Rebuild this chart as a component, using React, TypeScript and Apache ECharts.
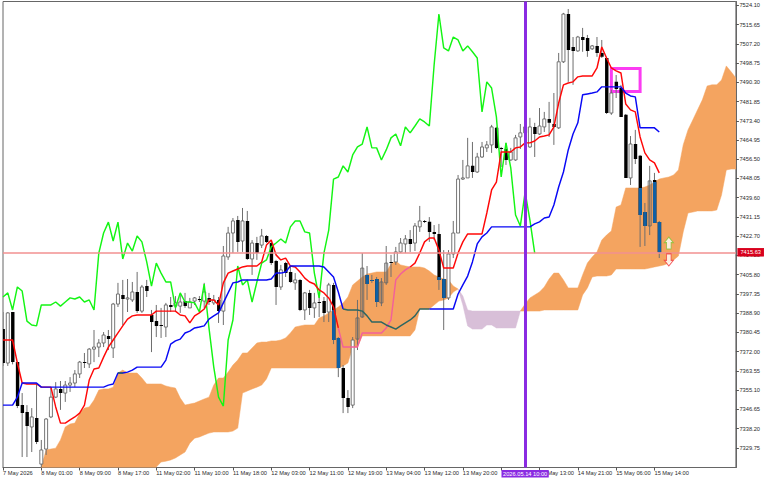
import { useEffect, useRef } from "react";
import * as echarts from "echarts";

// H1 bars
const opens = [
  7381.9, 7367, 7389.4, 7367.4, 7348.5, 7345.5, 7338.9, 7342.8, 7322.6, 7329.2,
  7343.3, 7352, 7355.6, 7353.8, 7357.3, 7358.2, 7362.2, 7367.4, 7366.6, 7373.1,
  7374, 7375.8, 7378.9, 7373.6, 7392.9, 7396.9, 7395.1, 7394.7, 7398.2, 7389.8,
  7400.8, 7388.1, 7385.5, 7383.7, 7382.8, 7392.5, 7392, 7392, 7394.2, 7391.2,
  7394.2, 7395.1, 7394.2, 7395.6, 7393.4, 7394.7, 7389.8, 7413.6, 7424.1, 7429.8,
  7420.6, 7429.4, 7412.7, 7419.7, 7418.8, 7422.8, 7419.7, 7411.8, 7400.4, 7410.9,
  7407, 7402.2, 7403.5, 7390.3, 7397.8, 7391.2, 7393.8, 7394.2, 7389.4, 7401.3,
  7378, 7364.8, 7351.6, 7348.5, 7377.5, 7387.2, 7405.7, 7403.5, 7403.9, 7393.4,
  7402.2, 7411.4, 7411.4, 7415.8, 7419.3, 7421.5, 7419.7, 7426.8, 7429.4, 7429,
  7424.6, 7423.7, 7403.9, 7395.6, 7414.9, 7424.1, 7447.8, 7448.3, 7453.6, 7450.9,
  7457.5, 7461.5, 7462.8, 7470.3, 7461.5, 7461, 7456.2, 7456.2, 7466.3, 7468.1,
  7461.9, 7470.7, 7467.6, 7470.7, 7474.2, 7472, 7470.3, 7499.3, 7520.3, 7505.8,
  7504.1, 7510.2, 7509.8, 7505, 7506.3, 7503.2, 7501, 7476.8, 7490.5, 7487.8,
  7476, 7448.3, 7463.2, 7458, 7433.3, 7427.2, 7447.4, 7428.9,
];
const highs = [
  7389.4, 7389.4, 7389.4, 7367.4, 7353.8, 7348.5, 7347.2, 7358.2, 7333.2, 7342.8,
  7356.4, 7358.6, 7359.1, 7359.1, 7360.8, 7363.9, 7367.9, 7371.4, 7373.6, 7381.5,
  7377.5, 7380.6, 7381.5, 7393.4, 7402.2, 7403.5, 7403.9, 7402.6, 7407, 7401.3,
  7403.5, 7390.3, 7392.5, 7391.2, 7393.4, 7396, 7396.4, 7396.9, 7397.8, 7395.6,
  7396, 7396.4, 7402.2, 7397.8, 7396.9, 7396, 7418.4, 7426.8, 7430.7, 7431.6,
  7435.1, 7433.8, 7421, 7422.4, 7425.9, 7423.2, 7421, 7412.3, 7410.1, 7411.4,
  7409.2, 7406.5, 7403.9, 7398.2, 7399.1, 7397.8, 7397.8, 7396, 7402.2, 7402.2,
  7378.4, 7366.1, 7355.1, 7378.4, 7394.7, 7415.3, 7409.6, 7405.7, 7404.8, 7404.3,
  7418.4, 7414.5, 7418, 7421.9, 7423.2, 7425.4, 7428.5, 7436, 7429.8, 7431.1,
  7427.6, 7428.1, 7416.6, 7416.6, 7429.4, 7449.6, 7456.2, 7465.9, 7464.1, 7459.3,
  7464.1, 7464.5, 7471.6, 7470.7, 7461.9, 7463.7, 7461.5, 7467.2, 7472, 7473.8,
  7474.7, 7472.5, 7479, 7477.3, 7481.7, 7485.6, 7503.2, 7520.8, 7522.5, 7510.2,
  7510.7, 7514.2, 7511.1, 7506.7, 7510.2, 7508.9, 7501.5, 7487, 7493.5, 7489.2,
  7476.4, 7466.7, 7469.4, 7458.4, 7437.3, 7453.6, 7450.5, 7429.4,
];
const lows = [
  7365.7, 7365.7, 7366.4, 7347.2, 7325.7, 7325.7, 7327.9, 7331.4, 7321.3, 7326.6,
  7342.8, 7351.6, 7346.4, 7349.9, 7354.3, 7356.4, 7360.4, 7364.8, 7364.8, 7367.4,
  7369.6, 7374, 7372.7, 7369.2, 7391.6, 7383.7, 7389.4, 7393.8, 7389, 7389,
  7396, 7371.8, 7378.4, 7378, 7378.4, 7389.4, 7389.4, 7389, 7391.2, 7391.2,
  7392.5, 7393.8, 7391.2, 7392.5, 7392.5, 7384.6, 7383.7, 7412.3, 7415.3, 7415.8,
  7415.8, 7412.3, 7405.7, 7412.3, 7417.5, 7419.7, 7410.1, 7392.5, 7399.1, 7404.8,
  7402.2, 7399.1, 7389.8, 7385.9, 7388.1, 7386.8, 7387.2, 7385, 7385, 7375.3,
  7360.8, 7345, 7345, 7347.2, 7372.7, 7386.8, 7394.7, 7402.2, 7391.6, 7392,
  7401.3, 7404.8, 7410.1, 7415.3, 7415.3, 7415.8, 7416.2, 7424.6, 7428.5, 7420.2,
  7421, 7399.1, 7381.5, 7394.7, 7413.1, 7424.1, 7447.4, 7448.3, 7448.3, 7450.5,
  7457.1, 7459.7, 7459.3, 7461, 7453.1, 7454, 7455.8, 7455.8, 7461, 7460.6,
  7461.5, 7457.5, 7467.2, 7468.5, 7466.3, 7462.8, 7469.8, 7498.8, 7490.5, 7489.2,
  7503.7, 7503.7, 7501.5, 7504.5, 7501.5, 7501, 7476.4, 7476, 7483.4, 7475.1,
  7448.3, 7445.2, 7454.4, 7418, 7418.4, 7423.2, 7428.5, 7413.1,
];
const closes = [
  7367, 7389, 7367.4, 7348.1, 7345, 7339.3, 7343.3, 7332.3, 7328.8, 7342.4,
  7352, 7355.6, 7353.8, 7357.3, 7358.2, 7362.2, 7367.4, 7367, 7373.1, 7374,
  7375.8, 7379.3, 7377.5, 7392.9, 7397.3, 7395.1, 7395.6, 7398.2, 7389.8, 7400.4,
  7398.6, 7385, 7383.3, 7383.3, 7392.5, 7391.6, 7393.4, 7393.8, 7392, 7393.8,
  7395.6, 7394.7, 7398.2, 7393.8, 7394.7, 7389.8, 7414, 7424.1, 7429.4, 7420.2,
  7429.4, 7412.7, 7419.7, 7415.3, 7422.8, 7420.2, 7410.9, 7400.4, 7407.9, 7406.5,
  7402.6, 7403.5, 7390.3, 7397.8, 7391.2, 7393.4, 7393.4, 7389, 7401.3, 7377.1,
  7364.8, 7351.6, 7347.7, 7377.1, 7386.8, 7408.7, 7401.7, 7403, 7393.8, 7402.6,
  7410.9, 7410.9, 7415.8, 7419.7, 7421.5, 7419.3, 7427.2, 7429.4, 7429, 7424.6,
  7423.7, 7403.5, 7395.6, 7414.9, 7424.1, 7447.8, 7448.3, 7453.6, 7450.9, 7457.5,
  7461.9, 7462.8, 7470.7, 7461.5, 7461, 7456.2, 7459.7, 7465.9, 7468.1, 7470.7,
  7470.7, 7467.6, 7471.1, 7474.2, 7472.5, 7470.7, 7499.3, 7520.3, 7504.5, 7504.1,
  7510.2, 7508.9, 7504.1, 7506.3, 7503.2, 7501.5, 7476.8, 7485.6, 7487.4, 7475.1,
  7448.3, 7463.2, 7456.6, 7432, 7427.2, 7447, 7428.5, 7415.63,
];

// Ichimoku lines
const tenkan = [
  7377.1, 7377.1, 7377.1, 7367, 7358.2, 7357.8, 7357.8, 7357.8, 7356.4, 7356.4,
  7356.4, 7347.7, 7340.6, 7340.6, 7342, 7343.3, 7345, 7348.5, 7359.5, 7364.4,
  7364.8, 7369.6, 7374, 7377.1, 7380.2, 7383.3, 7386.3, 7387.7, 7388.1, 7388.1,
  7388.1, 7388.1, 7389.8, 7389.8, 7389.8, 7389.8, 7389.8, 7388.1, 7387.7, 7384.6,
  7387.7, 7389, 7390.7, 7394.7, 7394.7, 7392.5, 7402.2, 7406.5, 7407.4, 7408.3,
  7409.2, 7409.6, 7409.6, 7409.6, 7411.4, 7418.8, 7421, 7414.5, 7412.3, 7413.1,
  7409.6, 7409.2, 7407, 7404.3, 7402.6, 7401.7, 7399.1, 7397.8, 7395.6, 7391.6,
  7382.4, 7374, 7374, 7374, 7374, 7380.2, 7380.2, 7380.2, 7380.2, 7380.2,
  7382.4, 7385.9, 7403.5, 7406.1, 7407.9, 7409.2, 7410.9, 7415.3, 7420.2, 7421.9,
  7421.9, 7416.6, 7408.7, 7408.7, 7408.7, 7415.3, 7420.2, 7423.7, 7423.7, 7423.7,
  7423.7, 7432.9, 7443, 7446.5, 7459.7, 7459.7, 7459.7, 7461.5, 7461.9, 7463.7,
  7463.7, 7464.5, 7466.3, 7466.7, 7467.2, 7470.7, 7481.2, 7489.2, 7490, 7490.5,
  7492.7, 7493.1, 7493.1, 7493.1, 7496.6, 7505.8, 7501, 7496.6, 7495.3, 7494.4,
  7480.8, 7478.2, 7477.3, 7466.3, 7459.3, 7456.2, 7454.9, 7450.5,
];
const kijun = [
  7348.5, 7348.5, 7348.5, 7352, 7358.2, 7358.2, 7358.2, 7358.2, 7356.4, 7356.4,
  7356.4, 7356.4, 7356.4, 7356.4, 7356.4, 7356.4, 7356.4, 7356.4, 7356.4, 7356.4,
  7356.4, 7356.4, 7357.3, 7357.8, 7362.6, 7362.6, 7363, 7363.9, 7365.2, 7365.2,
  7365.2, 7365.2, 7365.2, 7365.2, 7368.3, 7375.3, 7376.7, 7377.5, 7380.2, 7381,
  7382.4, 7382.8, 7383.3, 7386.3, 7387.7, 7389, 7393.4, 7397.8, 7402.2, 7402.6,
  7403.5, 7403.5, 7403.5, 7403.5, 7403.5, 7403.5, 7403.9, 7406.5, 7406.5, 7407,
  7409.6, 7409.6, 7409.6, 7409.6, 7409.6, 7409.6, 7409.6, 7409.2, 7407, 7404.8,
  7398.2, 7390.7, 7390.3, 7390.3, 7390.3, 7389.8, 7387.7, 7385, 7385, 7385,
  7383.7, 7382.8, 7381.9, 7383.3, 7384.6, 7385.9, 7387.7, 7390.7, 7390.7, 7390.7,
  7390.7, 7390.7, 7390.7, 7390.7, 7390.7, 7397.3, 7401.3, 7405.2, 7411.4, 7419.3,
  7422.4, 7424.1, 7426.8, 7426.8, 7426.8, 7426.8, 7426.8, 7426.8, 7426.8, 7426.8,
  7426.8, 7428.1, 7429, 7430.7, 7431.1, 7436.4, 7444.3, 7450.9, 7460.6, 7467.6,
  7472.5, 7484.8, 7485.2, 7485.6, 7486.1, 7488.3, 7488.3, 7488.3, 7488.3, 7488.3,
  7485.6, 7484.3, 7483.9, 7470.3, 7470.3, 7470.3, 7470.3, 7468.5,
];
const chikou = [
  7396, 7397.8, 7390.3, 7400.4, 7398.6, 7385.4, 7383.7, 7383.3, 7392.5, 7392.5,
  7392.5, 7393.8, 7392, 7393.8, 7395.6, 7395.1, 7396, 7393.8, 7394.7, 7390.3,
  7415.3, 7424.1, 7428.9, 7420.6, 7428.9, 7412.7, 7419.7, 7416.2, 7422.8, 7420.2,
  7411.4, 7400.8, 7410.9, 7406.5, 7402.6, 7402.6, 7391.2, 7397.8, 7393.8, 7393.8,
  7393.4, 7389.4, 7401.7, 7382.4, 7365.2, 7352, 7348.1, 7377.1, 7385.9, 7409.6,
  7401.3, 7403.5, 7393.8, 7402.6, 7410.9, 7412.3, 7418, 7419.7, 7421.5, 7419.7,
  7426.8, 7429.4, 7429.4, 7424.6, 7424.1, 7406.5, 7395.6, 7415.3, 7425.4, 7447.8,
  7448.7, 7453.6, 7450.9, 7458.4, 7461.9, 7463.2, 7470.7, 7461.5, 7461.5, 7456.2,
  7460.6, 7465.9, 7467.6, 7462.4, 7470.7, 7468.1, 7471.1, 7474.2, 7472.9, 7471.1,
  7497.9, 7520.3, 7505.4, 7504.1, 7510.2, 7508.9, 7504.1, 7506.3, 7503.7, 7501,
  7477.3, 7490.5, 7487.8, 7475.1, 7448.7, 7463.7, 7452.7, 7432, 7427.2, 7442.1,
  7429.8, 7415.3,
];
const spanA = [
  null, null, null, null, null, null, null, null, 7321.3, 7328.8,
  7329.2, 7329.6, 7333.2, 7338.9, 7340.2, 7340.6, 7345, 7347.2, 7347.7, 7350.7,
  7355.1, 7355.6, 7355.6, 7356.4, 7362.6, 7363.9, 7362.6, 7362.6, 7362.6, 7360.4,
  7357.8, 7357.8, 7357.8, 7357.8, 7356.9, 7356.4, 7356, 7351.6, 7348.5, 7349,
  7349.4, 7350.3, 7351.2, 7352, 7357.3, 7360.4, 7360.4, 7363, 7366.1, 7368.3,
  7371.4, 7371.4, 7373.6, 7375.8, 7376.2, 7376.2, 7376.7, 7376.7, 7377.1, 7378,
  7380.2, 7382.8, 7383.3, 7383.7, 7383.7, 7383.7, 7386.8, 7387.7, 7389, 7390.3,
  7391.6, 7393.4, 7396, 7401.3, 7403, 7404.8, 7406.1, 7406.5, 7407, 7407,
  7407, 7410.5, 7411.8, 7410.1, 7409.6, 7409.2, 7409.2, 7409.2, 7408.7, 7407.4,
  7405.7, 7404.8, 7403.9, 7403.5, 7400.8, 7399.5, 7392.5, 7383.3, 7381.9, 7381.9,
  7381.9, 7383.7, 7383.7, 7382.4, 7382.4, 7382.4, 7382.4, 7382.4, 7389.8, 7392.9,
  7395.6, 7396.9, 7398.2, 7400.4, 7403.9, 7406.5, 7406.5, 7403.5, 7400, 7400,
  7400, 7405.7, 7410.9, 7413.6, 7415.8, 7421, 7423.2, 7425, 7435.5, 7436.4,
  7443.9, 7443.9, 7443.9, 7443.9, 7444.3, 7445.2, 7446.5, 7447.8, 7448.3, 7448.7,
  7449.6, 7451.8, 7462.8, 7469.4, 7473.8, 7478.2, 7482.6, 7488.7, 7489.2, 7489.2,
  7491.3, 7497.5, 7494.9, 7492.2,
];
const spanB = [
  null, null, null, null, null, null, null, null, 7318, 7318,
  7318, 7318, 7318, 7318, 7318, 7318, 7318, 7318, 7318, 7318,
  7318, 7318, 7318, 7318, 7318, 7318, 7318, 7318, 7318, 7318,
  7318, 7318, 7321.3, 7323.5, 7323.9, 7324.4, 7325.3, 7326.6, 7327.9, 7331.8,
  7334, 7334.5, 7335.4, 7336.2, 7336.7, 7336.7, 7336.7, 7336.7, 7337.1, 7338.4,
  7353.8, 7354.7, 7355.6, 7356.4, 7357.3, 7360, 7364.8, 7364.8, 7364.8, 7364.8,
  7364.8, 7364.8, 7364.8, 7364.8, 7364.8, 7364.8, 7364.8, 7364.8, 7364.8, 7364.8,
  7364.8, 7365.7, 7367, 7374, 7374, 7378.9, 7378.9, 7378.9, 7378.9, 7378.9,
  7378.9, 7378.9, 7378.9, 7378.9, 7378.9, 7378.9, 7381.5, 7390.7, 7390.7, 7390.7,
  7392.5, 7394.2, 7394.7, 7395.6, 7398.2, 7399.5, 7396.4, 7390.3, 7389.8, 7389.8,
  7389.8, 7389.8, 7389.8, 7389.8, 7389.8, 7389.8, 7389.8, 7389.8, 7389.8, 7389.8,
  7389.8, 7389.8, 7389.8, 7390.3, 7390.3, 7390.3, 7390.3, 7390.3, 7390.3, 7390.3,
  7390.3, 7396.9, 7400, 7404.8, 7405.2, 7405.2, 7405.2, 7405.7, 7408.3, 7408.3,
  7408.3, 7408.3, 7408.3, 7408.3, 7408.3, 7408.7, 7409.2, 7409.6, 7410.1, 7410.9,
  7412.3, 7414, 7424.6, 7432.9, 7433.3, 7433.8, 7433.8, 7433.8, 7433.8, 7434.2,
  7440.8, 7451.8, 7452.2, 7452.2,
];

const BAR_COUNT = 154;
const LAST_PRICE = 7415.63;
const CROSS_INDEX = 109;
const CROSS_LABEL = "2026.05.14 10:00";
const TICK_STEP = 8;
const xTickLabels = [
  "7 May 2026", "8 May 01:00", "8 May 09:00", "8 May 17:00", "11 May 02:00", "11 May 10:00",
  "11 May 18:00", "12 May 03:00", "12 May 11:00", "12 May 19:00", "13 May 04:00", "13 May 12:00",
  "13 May 20:00", "", "14 May 13:00", "14 May 21:00", "15 May 06:00", "15 May 14:00",
];
const yTicks = [
  7524.1, 7515.65, 7507.2, 7498.75, 7490.3, 7481.85, 7473.4, 7464.95, 7456.5, 7448.05, 7439.6, 7431.15,
  7422.7, 7414.25, 7405.8, 7397.35, 7388.9, 7380.45, 7372, 7363.55, 7355.1, 7346.65, 7338.2, 7329.75,
];
// the boxed zone and the two signal arrows
const zoneBars = [127, 133];
const zonePrices = [7496.4, 7486.3];
const arrowUp = [[139, 7419.7]];
const arrowDown = [[139, 7412.3]];

const ORANGE = "#f4a460";
const LILAC = "#d8bfd8";
const FONT = "Liberation Sans";

// contiguous runs where the cloud is one colour
function cloudRuns(bullish: boolean) {
  const runs: number[][] = [];
  let cur: number[] | null = null;
  for (let i = 0; i < BAR_COUNT; i++) {
    const a = spanA[i];
    const b = spanB[i];
    const on = a != null && b != null && (a === b || a > b === bullish);
    if (on) {
      if (!cur) cur = [];
      cur.push(i);
    } else if (cur) {
      runs.push(cur);
      cur = null;
    }
  }
  if (cur) runs.push(cur);
  return runs;
}

function inOrange(v: number, i: number) {
  const a = spanA[i];
  const b = spanB[i];
  return a != null && b != null && a > b && v <= a && v >= b;
}

// the platform blends lines with the cloud, so the stretch inside it gets its own colour
function insideCloud(line: number[]) {
  return line.map((v, i) => (inOrange(v, i) ? v : null));
}
function outsideCloud(line: number[]) {
  return line.map((v, i) => {
    const inner = inOrange(v, i) && i > 0 && i < line.length - 1 && inOrange(line[i - 1], i - 1) && inOrange(line[i + 1], i + 1);
    return inner ? null : v;
  });
}

function cloudSeries(name: string, runs: number[][], color: string) {
  return {
    name,
    type: "custom",
    silent: true,
    clip: true,
    z: 1,
    data: runs.map((_, k) => [k]),
    renderItem: (params: any, api: any) => {
      const run = runs[params.dataIndex];
      const top = run.map((i) => api.coord([i, spanA[i]]));
      const bottom = run.map((i) => api.coord([i, spanB[i]])).reverse();
      return {
        type: "polygon",
        shape: { points: [...top, ...bottom] },
        style: { fill: color, stroke: color, lineWidth: 0.5 },
      };
    },
  };
}

function renderCandle(_: any, api: any) {
  const i = api.value(0);
  const o = api.value(1);
  const h = api.value(2);
  const l = api.value(3);
  const c = api.value(4);
  const [x, yHigh] = api.coord([i, h]);
  const yLow = api.coord([i, l])[1];
  const yTop = api.coord([i, Math.max(o, c)])[1];
  const yBot = api.coord([i, Math.min(o, c)])[1];
  const w = 3;
  const children: any[] = [
    { type: "line", shape: { x1: x, y1: yHigh, x2: x, y2: yLow }, style: { stroke: "#6e6e6e", lineWidth: 1 } },
  ];
  if (c >= o) {
    children.push({
      type: "rect",
      shape: { x: x - w / 2, y: yTop, width: w, height: Math.max(yBot - yTop, 0.6) },
      style: { fill: "#fff", fillOpacity: spanA[i] != null && inOrange((o + c) / 2, i) ? 0 : 1, stroke: "#666", lineWidth: 0.9 },
    });
  } else {
    children.push({
      type: "rect",
      shape: { x: x - w / 2, y: yTop, width: w + 0.4, height: Math.max(yBot - yTop, 1) },
      style: { fill: "#000" },
    });
    const a = spanA[i];
    const b = spanB[i];
    if (a != null && b != null && a > b) {
      const from = Math.max(yTop, api.coord([i, a])[1]);
      const to = Math.min(yBot, api.coord([i, b])[1]);
      if (to > from) {
        children.push({
          type: "rect",
          shape: { x: x - w / 2, y: from, width: w + 0.4, height: to - from },
          style: { fill: "#0f5fa3" },
        });
      }
    }
  }
  return { type: "group", children };
}

function lineSeries(name: string, data: (number | null)[], color: string, z: number, extra: any = {}) {
  return {
    name,
    type: "line",
    data,
    symbol: "none",
    silent: true,
    z,
    lineStyle: { color, width: 1.45 },
    ...extra,
  };
}

export default function App() {
  const ref = useRef<HTMLDivElement | null>(null);

  useEffect(() => {
    if (!ref.current) return;
    document.body.style.margin = "0";
    const chart = echarts.init(ref.current, undefined, { renderer: "svg" });

    const candles = opens.map((o, i) => [i, o, highs[i], lows[i], closes[i]]);

    chart.setOption({
      animation: false,
      backgroundColor: "#fff",
      textStyle: { fontFamily: FONT },
      grid: {
        left: 1.5,
        top: 1.5,
        width: 734.4,
        height: 466,
        show: true,
        borderColor: "#666",
        borderWidth: 1,
        backgroundColor: "#fff",
      },
      xAxis: {
        type: "category",
        boundaryGap: false,
        data: Array.from({ length: BAR_COUNT }, (_, i) => String(i)),
        axisLine: { show: true, lineStyle: { color: "#666", width: 1 } },
        axisTick: {
          show: true,
          length: 3,
          lineStyle: { color: "#555" },
          interval: (i: number) => i % TICK_STEP === 0 && i / TICK_STEP < xTickLabels.length,
        },
        splitLine: { show: false },
        axisLabel: {
          show: true,
          interval: (i: number) => i % TICK_STEP === 0 && i / TICK_STEP < xTickLabels.length,
          formatter: (_: string, i: number) => xTickLabels[i / TICK_STEP] ?? "",
          align: "left",
          margin: 2.5,
          fontSize: 5.7,
          fontFamily: FONT,
          color: "#2a2a2a",
          hideOverlap: false,
        },
      },
      yAxis: {
        type: "value",
        position: "right",
        min: 7321.1,
        max: 7525.8,
        scale: true,
        axisLine: { show: true, lineStyle: { color: "#666", width: 1 } },
        splitLine: { show: false },
        axisTick: { show: true, length: 3, lineStyle: { color: "#555" }, customValues: yTicks },
        axisLabel: {
          customValues: yTicks,
          formatter: (v: number) => v.toFixed(2),
          margin: 3.5,
          fontSize: 5.7,
          fontFamily: FONT,
          color: "#2a2a2a",
        },
      },
      series: [
        cloudSeries("Kumo up", cloudRuns(true), ORANGE),
        cloudSeries("Kumo down", cloudRuns(false), LILAC),
        {
          name: "Price",
          type: "custom",
          silent: true,
          clip: true,
          z: 2,
          data: candles,
          encode: { x: 0, y: [1, 2, 3, 4] },
          renderItem: renderCandle,
        },
        lineSeries("Chikou", chikou, "#14f514", 3),
        lineSeries("Tenkan", outsideCloud(tenkan), "#ff0808", 3),
        lineSeries("Kijun", outsideCloud(kijun), "#0808f5", 3, {
          markArea: {
            silent: true,
            itemStyle: { color: "rgba(0,0,0,0)", borderColor: "#fb3cf2", borderWidth: 3 },
            data: [[
              { xAxis: zoneBars[0], yAxis: zonePrices[0] },
              { xAxis: zoneBars[1], yAxis: zonePrices[1] },
            ]],
          },
        }),
        lineSeries("Tenkan in cloud", insideCloud(tenkan), "#f2609a", 4),
        lineSeries("Kijun in cloud", insideCloud(kijun), "#2c6662", 4),
        {
          name: "Up signal",
          type: "scatter",
          silent: true,
          z: 6,
          data: arrowUp,
          symbol: "path://M5 0 L10 6 L7.5 6 L7.5 13 L2.5 13 L2.5 6 L0 6 Z",
          symbolSize: [9, 12],
          itemStyle: { color: "#fff", borderColor: "#84c232", borderWidth: 1 },
        },
        {
          name: "Down signal",
          type: "scatter",
          silent: true,
          z: 6,
          data: arrowDown,
          symbol: "path://M2.5 0 L7.5 0 L7.5 7 L10 7 L5 13 L0 7 L2.5 7 Z",
          symbolSize: [9, 12],
          itemStyle: { color: "#fff", borderColor: "#f03838", borderWidth: 1 },
        },
        {
          name: "Markers",
          type: "line",
          data: [],
          z: 5,
          markLine: {
            silent: true,
            symbol: "none",
            data: [
              {
                yAxis: LAST_PRICE,
                lineStyle: { color: "#f29090", width: 1.5, type: "solid" },
                label: {
                  show: true,
                  position: "end",
                  distance: 1.5,
                  formatter: LAST_PRICE.toFixed(2),
                  color: "#fff",
                  backgroundColor: "#d8001c",
                  padding: [1.5, 3, 1, 3],
                  fontSize: 5.7,
                  fontFamily: FONT,
                },
              },
              {
                xAxis: CROSS_INDEX,
                lineStyle: { color: "#8a2be2", width: 3, type: "solid" },
                label: {
                  show: true,
                  position: "start",
                  distance: 2.5,
                  formatter: CROSS_LABEL,
                  color: "#fff",
                  backgroundColor: "#8a2be2",
                  padding: [1, 1.5, 0.5, 1.5],
                  fontSize: 5.7,
                  fontFamily: FONT,
                },
              },
            ],
          },
        },
      ],
    });

    return () => {
      chart.dispose();
    };
  }, []);

  return <div ref={ref} style={{ width: 768, height: 480 }} />;
}
